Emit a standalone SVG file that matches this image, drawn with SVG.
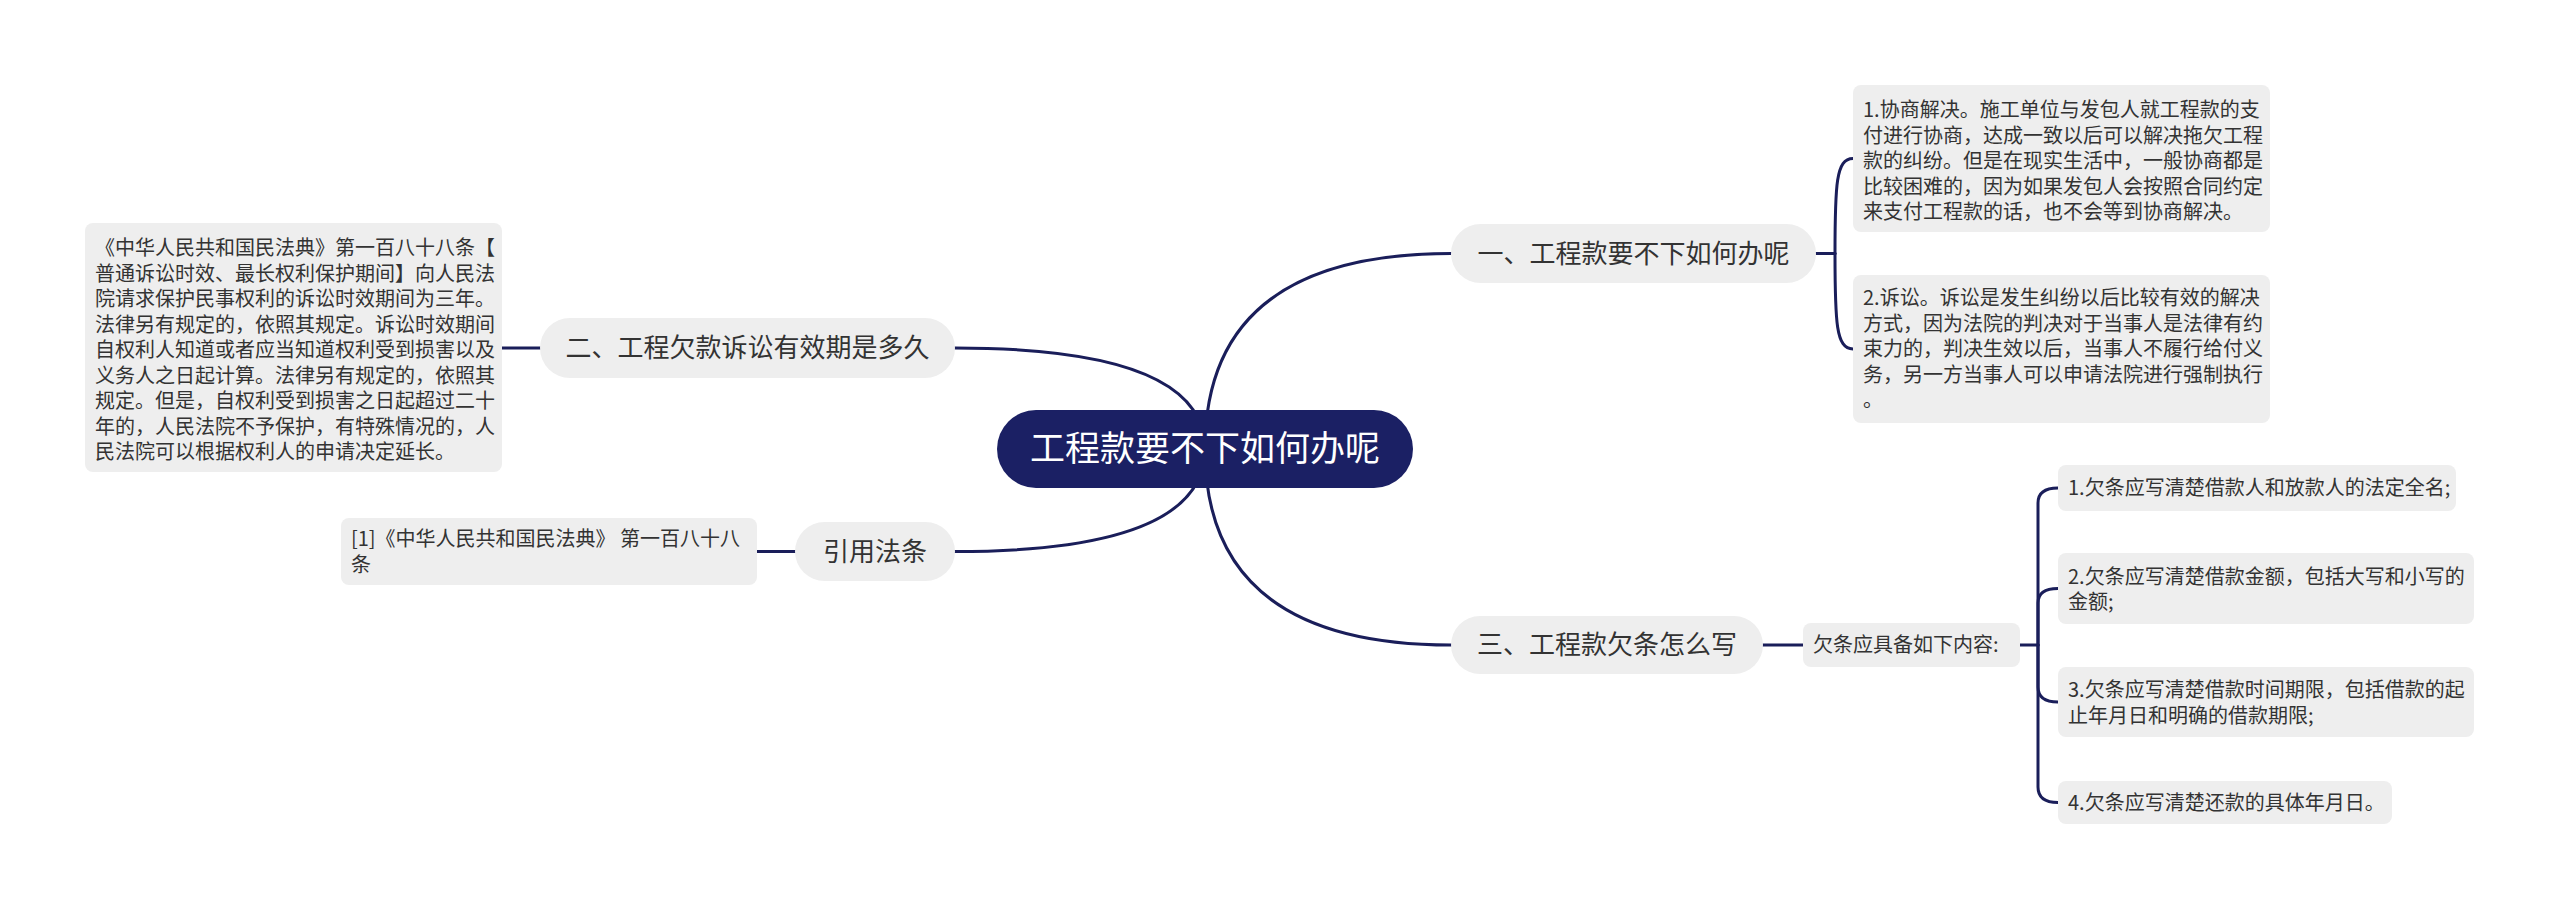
<svg xmlns="http://www.w3.org/2000/svg" width="2560" height="911" viewBox="0 0 2560 911">
<style>
.ln{fill:none;stroke:#1a1e5a;stroke-width:3;stroke-linecap:round}
.br{fill:#eeeeee}
.bt{font-family:"Noto Sans CJK SC","Noto Sans",sans-serif;font-size:26px;fill:#333333;text-anchor:middle}
.lf{fill:#eeeeee}
.lt{font-family:"Noto Sans CJK SC","Noto Sans",sans-serif;font-size:20px;fill:#333333}
.ct{font-family:"Noto Sans CJK SC","Noto Sans",sans-serif;font-size:35px;fill:#ffffff;text-anchor:middle}
</style>
<rect width="2560" height="911" fill="#ffffff"/>
<g id="connectors">
<path class="ln" d="M1205 449 Q1205 253.5 1451 253.5"/>
<path class="ln" d="M1205 449 Q1205 348 955 348"/>
<path class="ln" d="M1205 449 Q1205 551.5 955 551.5"/>
<path class="ln" d="M1205 449 Q1205 645 1451 645"/>
<path class="ln" d="M1816 253.5 H1835"/>
<path class="ln" d="M1835 253.5 C1835 185 1836 158.5 1853 158.5"/>
<path class="ln" d="M1835 253.5 C1835 322 1836 349 1853 349"/>
<path class="ln" d="M540 348 H502"/>
<path class="ln" d="M795 551.5 H757"/>
<path class="ln" d="M1763 645 H1803"/>
<path class="ln" d="M2020 645 H2038"/>
<path class="ln" d="M2038 645 V503 Q2038 488 2058 488"/>
<path class="ln" d="M2038 645 V603 Q2038 588.5 2058 588.5"/>
<path class="ln" d="M2038 645 V687 Q2038 702 2058 702"/>
<path class="ln" d="M2038 645 V787 Q2038 802.5 2058 802.5"/>
</g>
<g id="root">
<rect x="997" y="410" width="416" height="78" rx="39" fill="#1b2064"/>
<text class="ct" x="1205" y="461">工程款要不下如何办呢</text>
</g>
<g id="branch1">
<rect class="br" x="1451" y="224" width="365" height="59" rx="29.5"/>
<text class="bt" x="1633.5" y="262.5">一、工程款要不下如何办呢</text>
</g>
<g id="b1c1">
<rect class="lf" x="1853" y="85" width="417" height="147" rx="8"/>
<text class="lt" x="1863" y="117">1.协商解决。施工单位与发包人就工程款的支</text>
<text class="lt" x="1863" y="142.5">付进行协商，达成一致以后可以解决拖欠工程</text>
<text class="lt" x="1863" y="168">款的纠纷。但是在现实生活中，一般协商都是</text>
<text class="lt" x="1863" y="193.5">比较困难的，因为如果发包人会按照合同约定</text>
<text class="lt" x="1863" y="219">来支付工程款的话，也不会等到协商解决。</text>
</g>
<g id="b1c2">
<rect class="lf" x="1853" y="275" width="417" height="148" rx="8"/>
<text class="lt" x="1863" y="305">2.诉讼。诉讼是发生纠纷以后比较有效的解决</text>
<text class="lt" x="1863" y="330.5">方式，因为法院的判决对于当事人是法律有约</text>
<text class="lt" x="1863" y="356">束力的，判决生效以后，当事人不履行给付义</text>
<text class="lt" x="1863" y="381.5">务，另一方当事人可以申请法院进行强制执行</text>
<text class="lt" x="1863" y="407">。</text>
</g>
<g id="branch2">
<rect class="br" x="540" y="318" width="415" height="60" rx="30"/>
<text class="bt" x="747.5" y="357">二、工程欠款诉讼有效期是多久</text>
</g>
<g id="b2c1">
<rect class="lf" x="85" y="223" width="417" height="249" rx="8"/>
<text class="lt" x="95" y="255">《中华人民共和国民法典》第一百八十八条【</text>
<text class="lt" x="95" y="280.5">普通诉讼时效、最长权利保护期间】向人民法</text>
<text class="lt" x="95" y="306">院请求保护民事权利的诉讼时效期间为三年。</text>
<text class="lt" x="95" y="331.5">法律另有规定的，依照其规定。诉讼时效期间</text>
<text class="lt" x="95" y="357">自权利人知道或者应当知道权利受到损害以及</text>
<text class="lt" x="95" y="382.5">义务人之日起计算。法律另有规定的，依照其</text>
<text class="lt" x="95" y="408">规定。但是，自权利受到损害之日起超过二十</text>
<text class="lt" x="95" y="433.5">年的，人民法院不予保护，有特殊情况的，人</text>
<text class="lt" x="95" y="459">民法院可以根据权利人的申请决定延长。</text>
</g>
<g id="branch4">
<rect class="br" x="795" y="522" width="160" height="59" rx="29.5"/>
<text class="bt" x="875" y="560.5">引用法条</text>
</g>
<g id="b4c1">
<rect class="lf" x="341" y="518" width="416" height="67" rx="8"/>
<text class="lt" x="351" y="546">[1]《中华人民共和国民法典》 第一百八十八</text>
<text class="lt" x="351" y="571.5">条</text>
</g>
<g id="branch3">
<rect class="br" x="1451" y="616" width="312" height="58" rx="29"/>
<text class="bt" x="1607" y="654">三、工程款欠条怎么写</text>
</g>
<g id="b3c0">
<rect class="lf" x="1803" y="623" width="217" height="44" rx="8"/>
<text class="lt" x="1813" y="652">欠条应具备如下内容:</text>
</g>
<g id="b3c1">
<rect class="lf" x="2058" y="465" width="398" height="46" rx="8"/>
<text class="lt" x="2068" y="495">1.欠条应写清楚借款人和放款人的法定全名;</text>
</g>
<g id="b3c2">
<rect class="lf" x="2058" y="553" width="416" height="71" rx="8"/>
<text class="lt" x="2068" y="583.5">2.欠条应写清楚借款金额，包括大写和小写的</text>
<text class="lt" x="2068" y="609">金额;</text>
</g>
<g id="b3c3">
<rect class="lf" x="2058" y="667" width="416" height="70" rx="8"/>
<text class="lt" x="2068" y="697">3.欠条应写清楚借款时间期限，包括借款的起</text>
<text class="lt" x="2068" y="722.5">止年月日和明确的借款期限;</text>
</g>
<g id="b3c4">
<rect class="lf" x="2058" y="781" width="334" height="43" rx="8"/>
<text class="lt" x="2068" y="809.5">4.欠条应写清楚还款的具体年月日。</text>
</g>
</svg>
